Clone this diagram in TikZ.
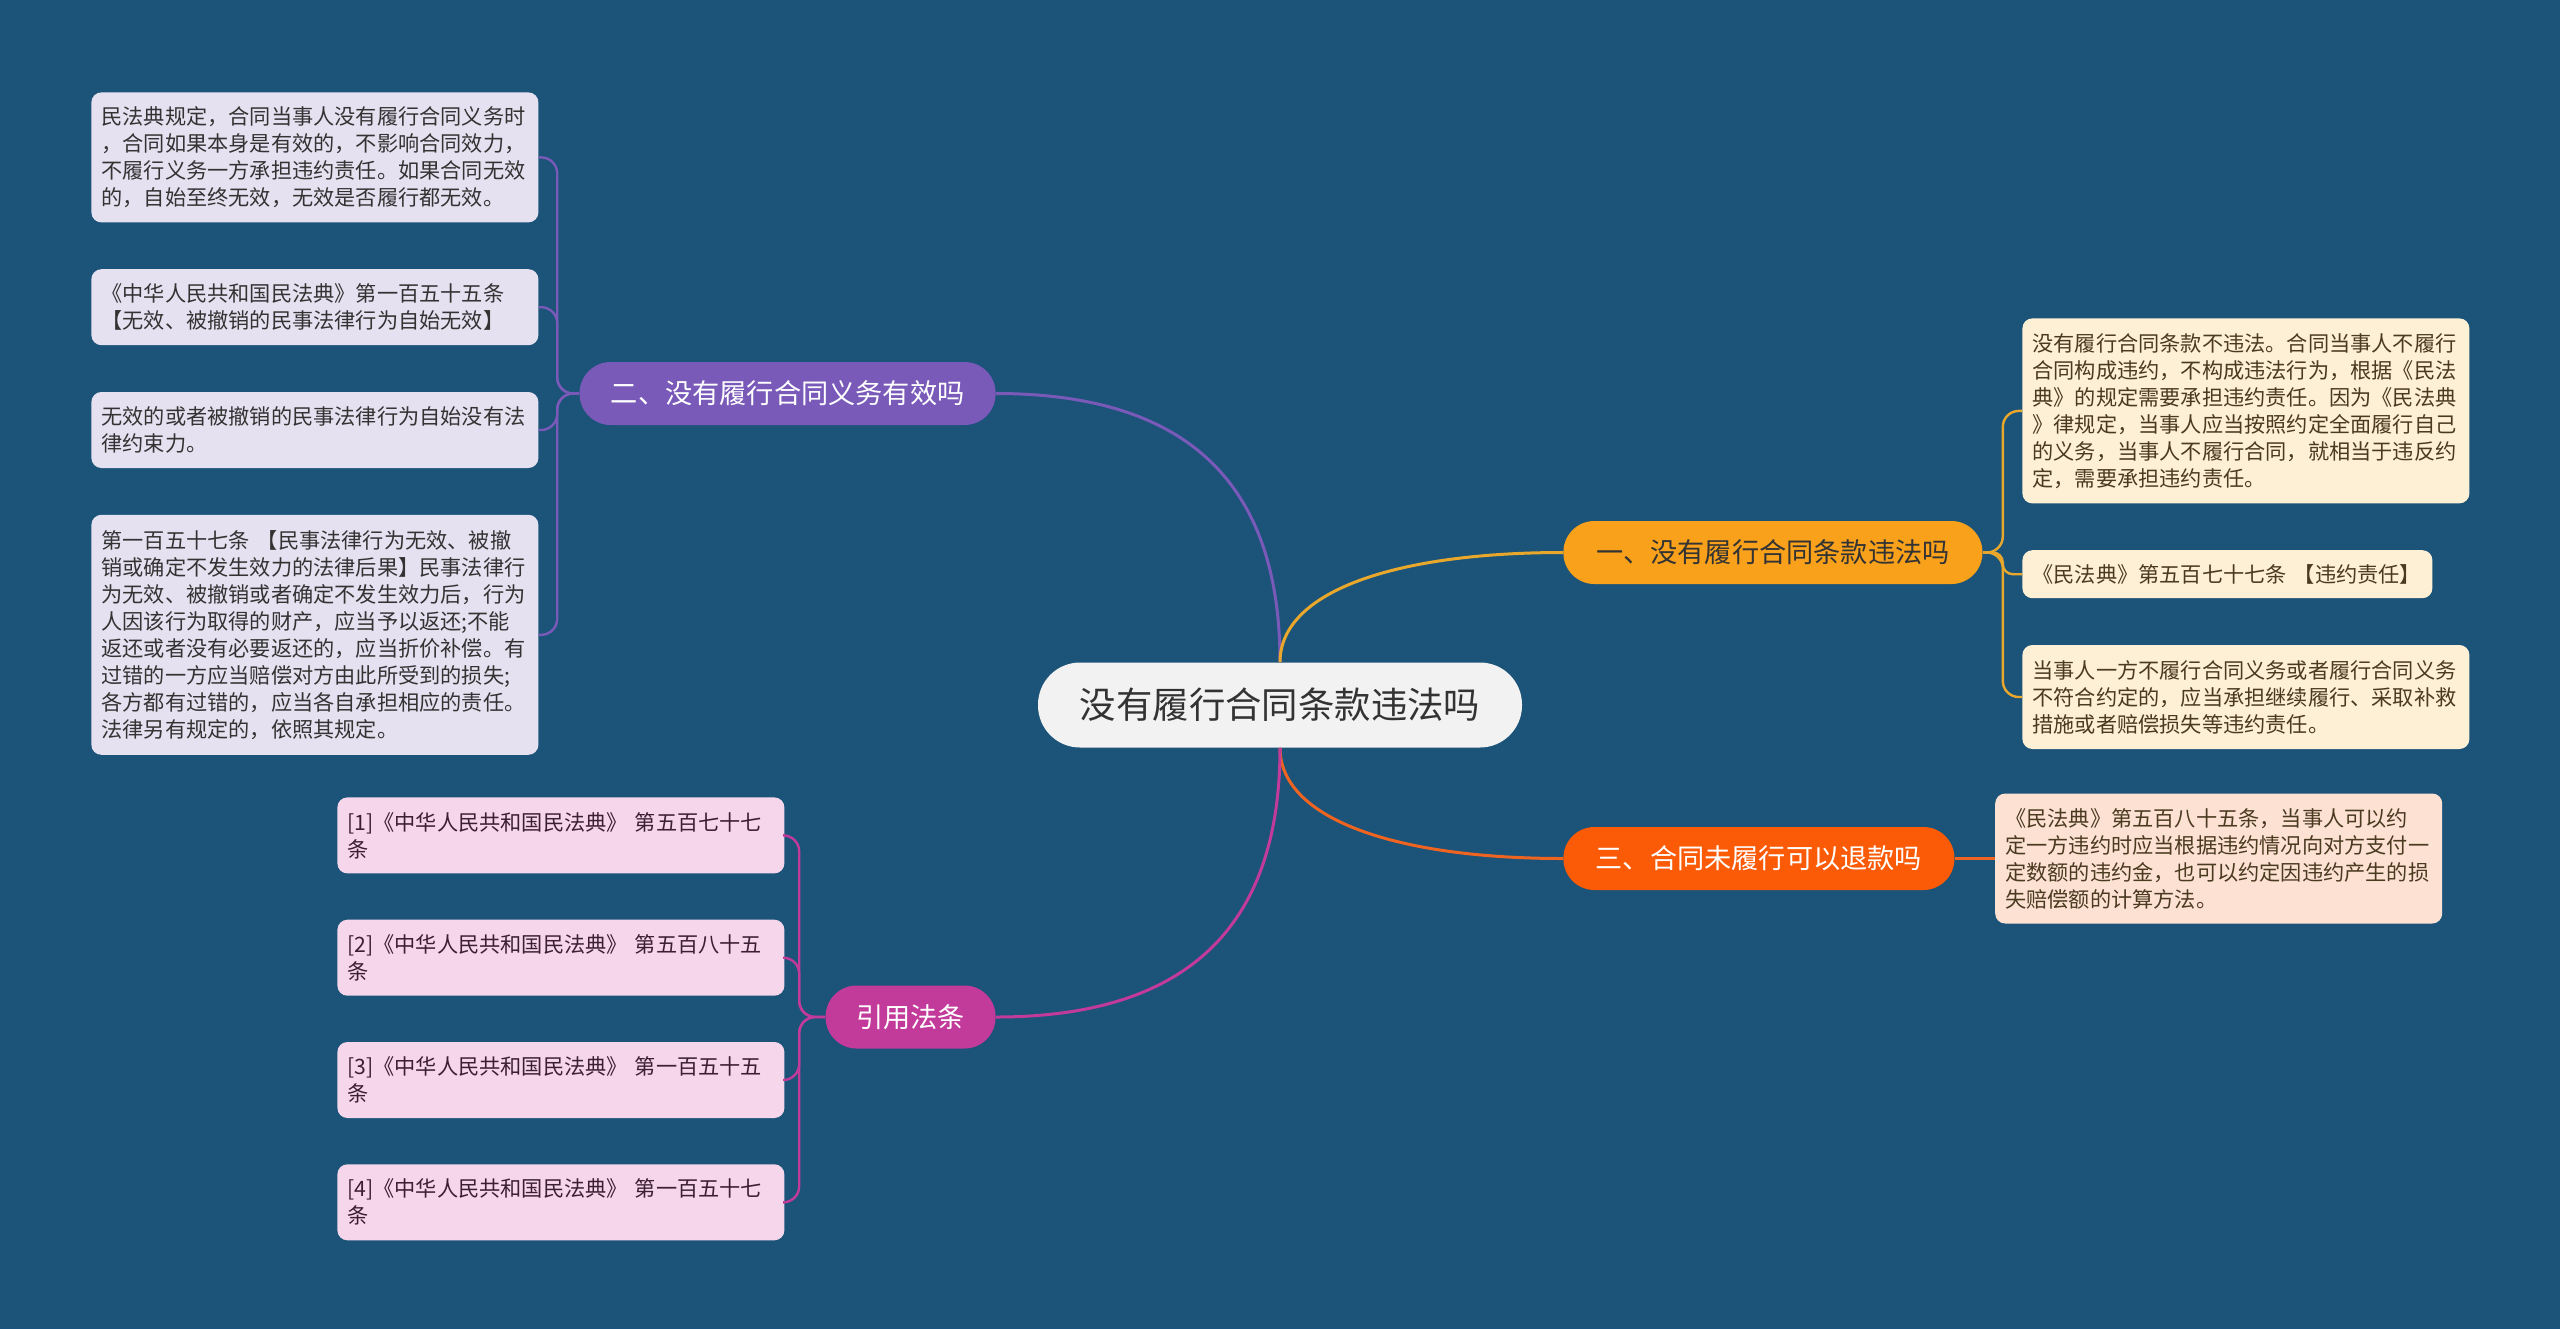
\documentclass[tikz,border=0pt]{standalone}
\usepackage{fontspec}
\setmainfont{Noto Sans CJK SC}
\usetikzlibrary{positioning}
\definecolor{bgblue}{HTML}{1B5379}
\definecolor{rootgray}{HTML}{F2F2F2}
\definecolor{hlorange}{HTML}{F9A11B}
\definecolor{hlred}{HTML}{FB5A06}
\definecolor{hlpurple}{HTML}{7A5AB9}
\definecolor{hlmagenta}{HTML}{C23A9A}
\definecolor{lineorange}{HTML}{E9A82C}
\definecolor{linered}{HTML}{EF6420}
\definecolor{lavender}{HTML}{E6E1F0}
\definecolor{cream}{HTML}{FDF0D5}
\definecolor{peach}{HTML}{FDE2D4}
\definecolor{pinkleaf}{HTML}{F5D6EA}
\definecolor{textdark}{HTML}{333333}
\definecolor{textbrown}{HTML}{4A3A20}
\definecolor{textplum}{HTML}{3D1F33}

\begin{document}
\begin{tikzpicture}[x=0.5pt, y=-0.5pt]
    \tikzstyle{root}=[fill=rootgray, rounded corners=21pt, minimum width=242pt,
                      minimum height=42.5pt, text=textdark,
                      font=\fontsize{18.2pt}{22pt}\selectfont]
    \tikzstyle{topic}=[rounded corners=15.5pt, minimum height=31.5pt, text=white,
                       font=\fontsize{13.6pt}{16pt}\selectfont]
    \tikzstyle{leaf}=[rounded corners=5pt, inner xsep=5pt, text width=213.5pt,
                      align=left, font=\fontsize{10.6pt}{13.5pt}\selectfont]
    \tikzstyle{noteleft}=[leaf, fill=lavender, text=textdark]
    \tikzstyle{noteright}=[leaf, fill=cream, text=textbrown]
    \tikzstyle{notepeach}=[leaf, fill=peach, text=textbrown]
    \tikzstyle{noteref}=[leaf, fill=pinkleaf, text=textplum]
    \tikzstyle{link}=[line width=1.5pt]
    \tikzstyle{branch}=[line width=1.2pt, rounded corners=8pt]

    % background
    \fill[bgblue] (0,0) rectangle (2560,1329);

    \node[root] (root) at (1280,705) {没有履行合同条款违法吗};

    \node[topic, fill=hlorange, text=textdark, minimum width=209.5pt, anchor=west]
        (t1) at (1563,552.5) {一、没有履行合同条款违法吗};
    \node[topic, fill=hlpurple, minimum width=208pt, anchor=east]
        (t2) at (996,393.5) {二、没有履行合同义务有效吗};
    \node[topic, fill=hlred, minimum width=195.5pt, anchor=west]
        (t3) at (1563,858.5) {三、合同未履行可以退款吗};
    \node[topic, fill=hlmagenta, minimum width=85pt, anchor=east]
        (t4) at (996,1017) {引用法条};

    % left: 二
    \node[noteleft, minimum height=65pt, anchor=north west] (l1) at (91,92)
        {民法典规定，合同当事人没有履行合同义务时\\
         ，合同如果本身是有效的，不影响合同效力，\\
         不履行义务一方承担违约责任。如果合同无效\\
         的，自始至终无效，无效是否履行都无效。};
    \node[noteleft, minimum height=38pt, below=23pt of l1] (l2)
        {《中华人民共和国民法典》第一百五十五条\\
         【无效、被撤销的民事法律行为自始无效】};
    \node[noteleft, minimum height=38pt, below=23pt of l2] (l3)
        {无效的或者被撤销的民事法律行为自始没有法\\
         律约束力。};
    \node[noteleft, minimum height=120pt, below=23pt of l3] (l4)
        {第一百五十七条 【民事法律行为无效、被撤\\
         销或确定不发生效力的法律后果】民事法律行\\
         为无效、被撤销或者确定不发生效力后，行为\\
         人因该行为取得的财产，应当予以返还;不能\\
         返还或者没有必要返还的，应当折价补偿。有\\
         过错的一方应当赔偿对方由此所受到的损失;\\
         各方都有过错的，应当各自承担相应的责任。\\
         法律另有规定的，依照其规定。};

    % right: 一
    \node[noteright, minimum height=92.5pt, anchor=north west] (r1) at (2022,318)
        {没有履行合同条款不违法。合同当事人不履行\\
         合同构成违约，不构成违法行为，根据《民法\\
         典》的规定需要承担违约责任。因为《民法典\\
         》律规定，当事人应当按照约定全面履行自己\\
         的义务，当事人不履行合同，就相当于违反约\\
         定，需要承担违约责任。};
    \node[noteright, minimum height=24pt, text width=195pt,
          below=23pt of r1.south west, anchor=north west] (r2)
        {《民法典》第五百七十七条 【违约责任】};
    \node[noteright, minimum height=52pt,
          below=23pt of r2.south west, anchor=north west] (r3)
        {当事人一方不履行合同义务或者履行合同义务\\
         不符合约定的，应当承担继续履行、采取补救\\
         措施或者赔偿损失等违约责任。};

    % right: 三
    \node[notepeach, minimum height=65pt, right=20pt of t3] (p1)
        {《民法典》第五百八十五条，当事人可以约\\
         定一方违约时应当根据违约情况向对方支付一\\
         定数额的违约金，也可以约定因违约产生的损\\
         失赔偿额的计算方法。};

    % left: 引用法条
    \node[noteref, minimum height=38pt, anchor=north west] (c1) at (337,797)
        {[1]《中华人民共和国民法典》 第五百七十七\\条};
    \node[noteref, minimum height=38pt, below=22.75pt of c1] (c2)
        {[2]《中华人民共和国民法典》 第五百八十五\\条};
    \node[noteref, minimum height=38pt, below=22.75pt of c2] (c3)
        {[3]《中华人民共和国民法典》 第一百五十五\\条};
    \node[noteref, minimum height=38pt, below=22.75pt of c3] (c4)
        {[4]《中华人民共和国民法典》 第一百五十七\\条};

    % main curves
    \draw[link, hlpurple] (root.north) .. controls +(0,-180) and +(190,0) .. (t2.east);
    \draw[link, lineorange] (root.north) .. controls +(0,-70) and +(-170,0) .. (t1.west);
    \draw[link, linered] (root.south) .. controls +(0,70) and +(-170,0) .. (t3.west);
    \draw[link, hlmagenta] (root.south) .. controls +(0,180) and +(190,0) .. (t4.east);

    % brackets
    \foreach \n in {l1,l2,l3,l4}
        \draw[branch, hlpurple] (t2.west) -- ++(-22,0) |- (\n.east);
    \foreach \n in {r1,r3}
        \draw[branch, lineorange] (t1.east) -- ++(20,0) |- (\n.west);
    \draw[branch, lineorange, rounded corners=5pt] (t1.east) -- ++(20,0) |- (r2.west);
    \draw[branch, linered] (t3.east) -- (p1.west);
    \foreach \n in {c1,c2,c3,c4}
        \draw[branch, hlmagenta] (t4.west) -- ++(-26,0) |- (\n.east);
\end{tikzpicture}
\end{document}
